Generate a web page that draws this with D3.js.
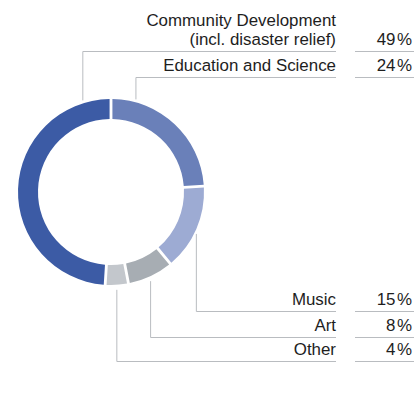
<!DOCTYPE html>
<html>
<head>
<meta charset="utf-8">
<script src="https://cdn.jsdelivr.net/npm/d3@7"></script>
<style>
  html, body { margin: 0; padding: 0; background: #fff; }
  svg text { font-family: "Liberation Sans", Arial, sans-serif; fill: #1e1e1e; }
</style>
</head>
<body>
<svg id="chart" width="414" height="393"></svg>
<script>
// Share of donations by field, drawn clockwise from 12 o'clock
const categories = ["Education and Science", "Music", "Art", "Other", "Community Development"];
const labelLines = [["Education and Science"], ["Music"], ["Art"], ["Other"], ["Community Development", "(incl. disaster relief)"]];
const shares = [24, 15, 8, 4, 49];
const valueLabels = ["24%", "15%", "8%", "4%", "49%"];
const colors = ["#6a80b9", "#9dabd3", "#a7adb3", "#c3c7cc", "#3c5ba5"];

// Layout: label row baseline (last line) and the point along each slice where its leader attaches
const rowBaseline = [71, 305, 331, 355, 45];
const leaderAt = [0.18, 0.5, 0.5, 0.5, 0.9];

const svg = d3.select("#chart");
const cx = 111, cy = 192, rOuter = 93, rInner = 73;
const labelRight = 336, valueRight = 412, lineGapEnd = 355, lineColor = "#b9bcc0";
const fontSize = 16.9;

const pie = d3.pie().sort(null).value(d => d).startAngle(0).endAngle(2 * Math.PI);
const arcs = pie(shares);
const arc = d3.arc().innerRadius(rInner).outerRadius(rOuter).padAngle(0.024);

const g = svg.append("g").attr("transform", `translate(${cx},${cy})`);
g.selectAll("path")
  .data(arcs)
  .join("path")
  .attr("d", arc)
  .attr("fill", (d, i) => colors[i]);

// Leader lines and labels
arcs.forEach((a, i) => {
  const ang = a.startAngle + (a.endAngle - a.startAngle) * leaderAt[i];
  const x = cx + rOuter * Math.sin(ang);
  const yRing = cy - rOuter * Math.cos(ang);
  const yLine = rowBaseline[i] + 6.5;
  const above = yLine < cy;
  const yEnd = above ? yRing - 3 : yRing + 5;

  svg.append("path")
    .attr("d", `M${x},${yEnd}V${yLine}H${labelRight}M${lineGapEnd},${yLine}H414`)
    .attr("fill", "none")
    .attr("stroke", lineColor)
    .attr("stroke-width", 1);

  const lines = labelLines[i];
  lines.forEach((t, k) => {
    svg.append("text")
      .attr("x", labelRight)
      .attr("y", rowBaseline[i] - (lines.length - 1 - k) * 19)
      .attr("text-anchor", "end")
      .attr("font-size", fontSize)
      .text(t);
  });

  // Value with a slight gap before the percent sign
  const v = valueLabels[i];
  const txt = svg.append("text")
    .attr("x", valueRight)
    .attr("y", rowBaseline[i])
    .attr("text-anchor", "end")
    .attr("font-size", fontSize);
  txt.append("tspan").text(v.slice(0, -1));
  txt.append("tspan").attr("dx", 1.5).text("%");
});
</script>
</body>
</html>
